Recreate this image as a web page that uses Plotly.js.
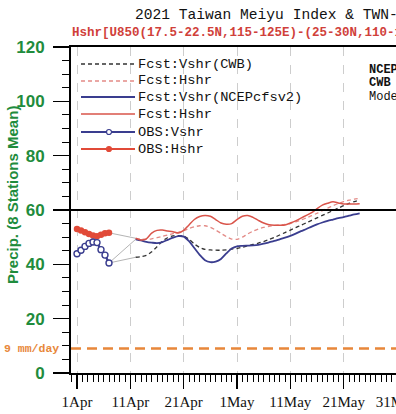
<!DOCTYPE html>
<html>
<head>
<meta charset="utf-8">
<script src="https://cdn.plot.ly/plotly-3.0.1.min.js"></script>
<style>
html,body{margin:0;padding:0;background:#fff;overflow:hidden;width:396px;height:414px;}
#chart{width:460px;height:414px;}
</style>
</head>
<body>
<div id="chart"></div>
<script>
// ---- data ----
const obsDates = ['2021-04-01 00:00','2021-04-01 18:00','2021-04-02 12:00','2021-04-03 06:00','2021-04-04 00:00','2021-04-04 18:00','2021-04-05 12:00','2021-04-06 06:00','2021-04-07 00:00'];
const obsVshr = [43.9, 45.2, 46.6, 47.7, 48.2, 48.0, 45.4, 43.4, 40.5];
const obsHshr = [53.0, 52.5, 51.8, 51.2, 50.6, 50.3, 50.9, 51.4, 51.6];

const fcstDates = ['2021-04-12','2021-04-13','2021-04-14','2021-04-15','2021-04-16','2021-04-17','2021-04-18','2021-04-19','2021-04-20','2021-04-21',
  '2021-04-22','2021-04-23','2021-04-24','2021-04-25','2021-04-26','2021-04-27','2021-04-28','2021-04-29','2021-04-30','2021-05-01',
  '2021-05-02','2021-05-03','2021-05-04','2021-05-05','2021-05-06','2021-05-07','2021-05-08','2021-05-09','2021-05-10','2021-05-11',
  '2021-05-12','2021-05-13','2021-05-14','2021-05-15','2021-05-16','2021-05-17','2021-05-18','2021-05-19','2021-05-20','2021-05-21',
  '2021-05-22','2021-05-23','2021-05-24'];
const ncepVshr = [49.2,48.8,48.3,48.0,47.8,48.2,49.0,49.8,50.4,50.2,48.5,46.0,43.5,41.5,40.8,41.0,42.0,44.0,45.8,46.6,46.8,46.9,47.0,47.2,47.6,48.1,48.6,49.2,49.8,50.5,51.3,52.2,53.0,53.9,54.7,55.4,56.0,56.5,57.0,57.4,57.9,58.4,58.8];
const ncepHshr = [49.6,49.0,49.4,51.5,52.5,52.6,52.3,52.0,51.5,52.5,54.5,56.5,57.6,58.0,57.7,56.5,55.2,54.8,55.0,56.5,57.7,58.0,57.3,56.2,55.2,54.6,54.4,54.4,54.5,55.2,56.0,57.0,58.0,59.0,60.5,61.8,62.5,63.0,62.6,62.2,62.2,62.2,62.3];
const cwbVshr = [42.6,42.8,43.3,44.6,46.5,48.5,49.8,50.5,50.6,50.4,49.2,47.5,46.2,45.5,45.3,45.2,45.2,45.3,45.6,45.8,46.3,46.8,47.3,47.8,48.4,49.1,49.9,50.8,51.7,52.6,53.5,54.4,55.3,56.2,57.1,58.0,58.9,59.8,60.7,61.6,62.4,63.1,63.7];
const cwbHshr = [49.5,49.3,49.2,49.4,49.8,50.3,50.8,51.3,51.8,52.4,53.2,53.8,54.2,54.2,53.6,52.6,51.4,50.2,49.3,49.2,50.0,51.2,52.2,53.0,53.6,54.0,54.3,54.5,54.7,55.0,55.6,56.3,57.1,57.9,58.8,59.8,60.7,61.6,62.4,63.1,63.6,64.0,64.3];

const refLine = 60;       // black reference line
const threshold = 9;      // 9 mm/day line
const legendLabels = ['Fcst:Vshr(CWB)','Fcst:Hshr','Fcst:Vshr(NCEPcfsv2)','Fcst:Hshr','OBS:Vshr','OBS:Hshr'];
const titleText = '2021 Taiwan Meiyu Index & TWN-Precip.';
const subTitle = 'Hshr[U850(17.5-22.5N,115-125E)-(25-30N,110-120E)]';
const yTitle = 'Precip. (8 Stations Mean)';

// ---- styles ----
const NAVY = '#3a3d8f', RED = '#d9544a', REDOBS = '#e14a38', REDDASH = '#e38a86', BLK = '#333333', GRAY = '#b4b4b4';
const GREEN = '#1f8c3d', ORANGE = '#e8873a';
const MONO = 'Liberation Mono, DejaVu Sans Mono, monospace';

// pixel helpers (plot area: x 71..450, y 47..373)
const PL = 71, PR = 450, PT = 47, PB = 373;
const px = v => (v - PL) / (PR - PL);
const py = v => (PB - v) / (PB - PT);

const last = a => a[a.length - 1];
const traces = [
  // grey connectors from observation to forecast start
  {x:[last(obsDates), fcstDates[0]], y:[last(obsHshr), ncepHshr[0]], mode:'lines', line:{color:GRAY,width:1}, hoverinfo:'skip'},
  {x:[last(obsDates), fcstDates[0]], y:[last(obsVshr), ncepVshr[0]], mode:'lines', line:{color:GRAY,width:1}, hoverinfo:'skip'},
  {x:[last(obsDates), fcstDates[0]], y:[last(obsVshr), cwbVshr[0]], mode:'lines', line:{color:GRAY,width:1}, hoverinfo:'skip'},
  {x:fcstDates, y:cwbVshr, mode:'lines', line:{color:BLK,width:1.3,dash:'4px,3px',shape:'spline',smoothing:0.8}},
  {x:fcstDates, y:cwbHshr, mode:'lines', line:{color:REDDASH,width:1.3,dash:'4px,3px',shape:'spline',smoothing:0.8}},
  {x:fcstDates, y:ncepVshr, mode:'lines', line:{color:NAVY,width:1.8,shape:'spline',smoothing:0.8}},
  {x:fcstDates, y:ncepHshr, mode:'lines', line:{color:RED,width:1.5,shape:'spline',smoothing:0.8}},
  {x:obsDates, y:obsHshr, mode:'lines+markers', line:{color:REDOBS,width:2}, marker:{color:REDOBS,size:6.5,symbol:'circle'}},
  {x:obsDates, y:obsVshr, mode:'lines+markers', line:{color:NAVY,width:2.2}, marker:{color:'#ffffff',size:6,symbol:'circle',line:{color:NAVY,width:1.4}}},
];

// legend drawn manually
const rowsY = [64, 81, 97, 114, 132, 149];
const legStyles = [
  {color:BLK, dash:'4px,3px', width:1.3},
  {color:REDDASH, dash:'4px,3px', width:1.3},
  {color:NAVY, dash:'solid', width:1.8},
  {color:RED, dash:'solid', width:1.5},
  {color:NAVY, dash:'solid', width:1.8, mk:'open'},
  {color:REDOBS, dash:'solid', width:1.8, mk:'fill'},
];
const shapes = [
  {type:'line', xref:'paper', yref:'y', x0:0, x1:1, y0:refLine, y1:refLine, line:{color:'#000',width:2}},
  {type:'line', xref:'paper', yref:'y', x0:0, x1:1, y0:threshold, y1:threshold, line:{color:ORANGE,width:2.5,dash:'10px,6px'}},
];
const annotations = [
  {xref:'paper', yref:'paper', x:px(133), y:py(15), xanchor:'left', yanchor:'middle', showarrow:false, text:titleText,
   font:{family:MONO, size:14.6, color:'#111'}},
  {xref:'paper', yref:'paper', x:px(70), y:py(33), xanchor:'left', yanchor:'middle', showarrow:false, text:subTitle,
   font:{family:MONO, size:12.5, color:'#d0403a', weight:'bold'}},
  {xref:'paper', yref:'paper', x:px(12), y:py(195), xanchor:'center', yanchor:'middle', showarrow:false, text:yTitle, textangle:-90,
   font:{family:'Liberation Sans, Arial, sans-serif', size:15, color:GREEN, weight:'bold'}},
  {xref:'paper', yref:'y', x:px(61), y:threshold, xanchor:'right', yanchor:'middle', showarrow:false, text:threshold + ' mm/day',
   font:{family:MONO, size:11.5, color:ORANGE, weight:'bold'}},
  {xref:'paper', yref:'paper', x:px(367), y:py(70), xanchor:'left', yanchor:'middle', showarrow:false, text:'NCEP',
   font:{family:MONO, size:12, color:'#111', weight:'bold'}},
  {xref:'paper', yref:'paper', x:px(367), y:py(83), xanchor:'left', yanchor:'middle', showarrow:false, text:'CWB',
   font:{family:MONO, size:12, color:'#111', weight:'bold'}},
  {xref:'paper', yref:'paper', x:px(367), y:py(97), xanchor:'left', yanchor:'middle', showarrow:false, text:'Model',
   font:{family:MONO, size:12, color:'#111'}},
];
legendLabels.forEach((lab, i) => {
  const s = legStyles[i];
  shapes.push({type:'line', xref:'paper', yref:'paper', x0:px(81), x1:px(135), y0:py(rowsY[i]), y1:py(rowsY[i]),
    line:{color:s.color, width:s.width, dash:s.dash}});
  if (s.mk) {
    const r = 2.5;
    shapes.push({type:'circle', xref:'paper', yref:'paper', xsizemode:'pixel', ysizemode:'pixel',
      xanchor:px(109), yanchor:py(rowsY[i]), x0:-r, x1:r, y0:-r, y1:r,
      line:{color:s.color, width:1.2}, fillcolor: s.mk === 'open' ? '#fff' : s.color});
  }
  annotations.push({xref:'paper', yref:'paper', x:px(136), y:py(rowsY[i]), xanchor:'left', yanchor:'middle', showarrow:false,
    text:lab, font:{family:MONO, size:13.7, color:'#111'}});
});

const layout = {
  width:460, height:414,
  margin:{l:PL, r:460-PR, t:PT, b:414-PB, pad:0},
  paper_bgcolor:'#fff', plot_bgcolor:'#fff',
  showlegend:false,
  xaxis:{
    type:'date', range:['2021-03-30 21:00','2021-06-09 22:30'],
    tick0:'2021-04-01', dtick:864000000, tickformat:'%-d%b',
    ticks:'outside', ticklen:14, tickwidth:1.5, tickcolor:'#000',
    showline:true, linewidth:2, linecolor:'#000', mirror:true,
    showgrid:true, gridcolor:'#cdcdcd', griddash:'dash', gridwidth:1, zeroline:false,
    minor:{tick0:'2021-04-01', dtick:86400000, ticks:'outside', ticklen:7, tickwidth:1, tickcolor:'#000', showgrid:false},
    tickfont:{family:'Liberation Serif, Times New Roman, serif', size:15, color:'#111'},
    fixedrange:true
  },
  yaxis:{
    range:[0,120], dtick:20, tick0:0,
    ticks:'outside', ticklen:16, tickwidth:1.5, tickcolor:'#000',
    showline:true, linewidth:2, linecolor:'#000', mirror:true,
    showgrid:false, zeroline:false, ticklabelstandoff:5,
    minor:{dtick:5, ticks:'outside', ticklen:7, tickwidth:1, tickcolor:'#000', showgrid:false},
    tickfont:{family:'Liberation Sans, Arial, sans-serif', size:17, color:GREEN, weight:'bold'},
    fixedrange:true
  },
  shapes:shapes,
  annotations:annotations
};

Plotly.newPlot('chart', traces, layout, {displayModeBar:false, staticPlot:true, responsive:false});
</script>
</body>
</html>
